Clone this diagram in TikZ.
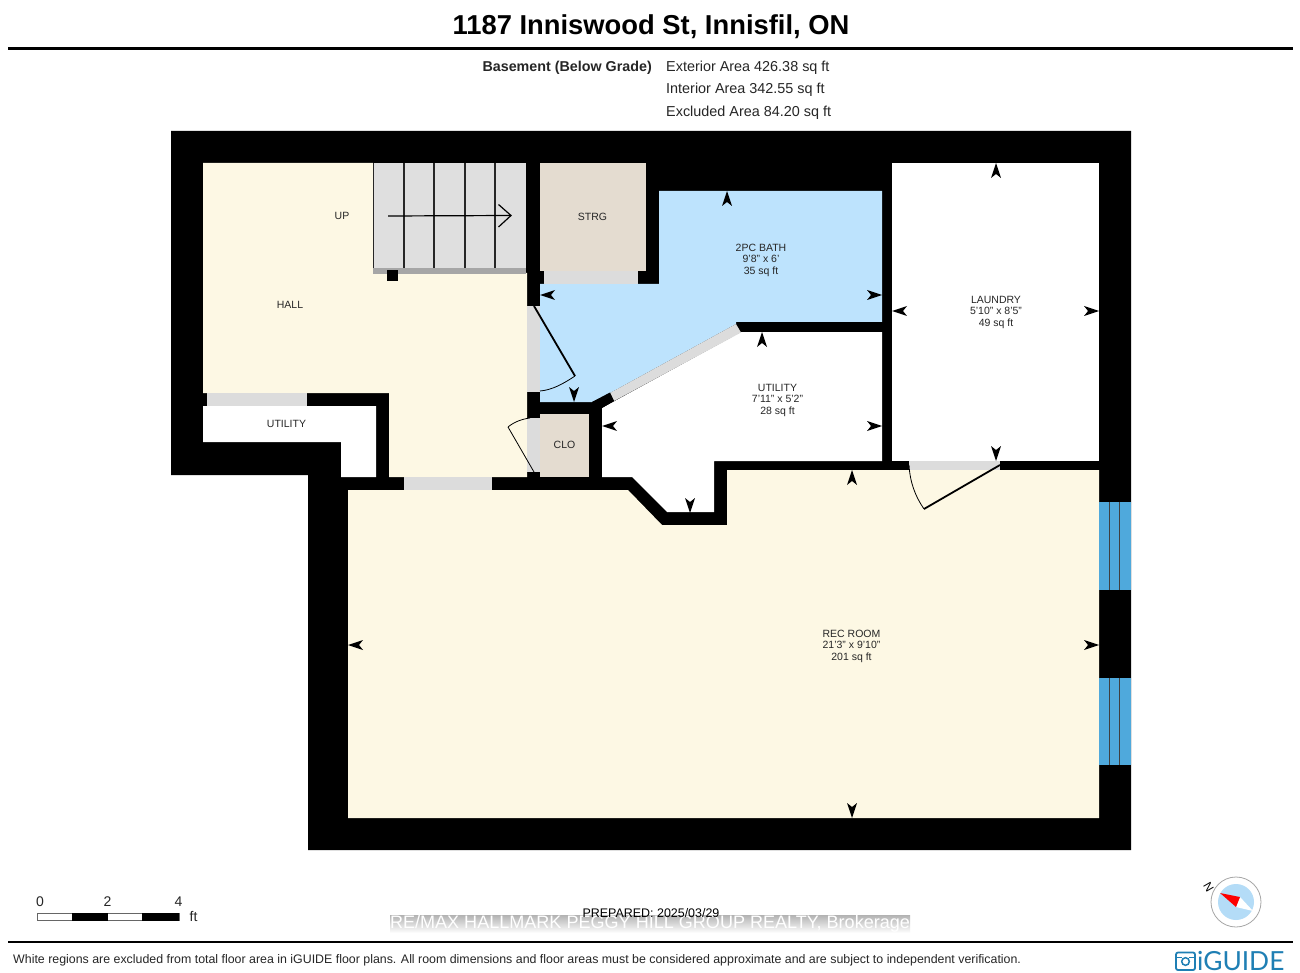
\documentclass[tikz,border=0pt]{standalone}
\usepackage{fontspec}
\setmainfont{Liberation Sans}
\newfontfamily\logofont{Lato}
\definecolor{cream}{HTML}{FDF8E4}
\definecolor{bath}{HTML}{BDE3FD}
\definecolor{tan}{HTML}{E4DCD0}
\definecolor{doorgray}{HTML}{DCDCDC}
\definecolor{stairgray}{HTML}{DFDFDF}
\definecolor{winblue}{HTML}{4FA9DC}
\definecolor{logoblue}{HTML}{1F7FB4}
\definecolor{compblue}{HTML}{B4DCF7}
\tikzset{
  x=1pt,y=-1pt,
  room/.style={font=\fontsize{10.5}{11.5}\selectfont,align=center,inner sep=0pt,text=black!85},
  head/.style={font=\fontsize{14.4}{16}\selectfont,anchor=west,inner sep=0pt,text=black!85},
  scalelab/.style={font=\fontsize{14}{16}\selectfont,inner sep=0pt,text=black!85},
  opening/.style={fill=doorgray},
  doorleaf/.style={line width=1.8pt,line join=round},
  doorarc/.style={line width=0.8pt},
  tread/.style={line width=1.3pt,draw=black!85},
}
\begin{document}
\begin{tikzpicture}
\useasboundingbox (0,0) rectangle (1300,973);
\fill[white] (0,0) rectangle (1300,973);

% header
\node[font=\bfseries\fontsize{27.35}{30}\selectfont,inner sep=0pt] (title) at (651,26.5) {1187 Inniswood St, Innisfil, ON};
\draw[line width=2.2pt] (8,48.5) -- (1293,48.5);
\node[head,font=\bfseries\fontsize{14.3}{16}\selectfont,anchor=east] (level) at (652,67.5) {Basement (Below Grade)};
\node[head] (ext) at (666,67.5) {Exterior Area 426.38 sq ft};
\node[head] (int) at (666,90) {Interior Area 342.55 sq ft};
\node[head] (exc) at (666,112.5) {Excluded Area 84.20 sq ft};

% walls
\fill[black] (171,131) -- (1131,131) -- (1131,850) -- (308,850) -- (308,475) -- (171,475) -- cycle;

% rooms
\fill[cream] (203,163) -- (373,163) -- (373,273) -- (527,273) -- (527,477) -- (389,477) -- (389,393) -- (203,393) -- cycle;
\fill[cream] (348,490) -- (628,490) -- (662,525) -- (727,525) -- (727,470) -- (1099,470) -- (1099,818) -- (348,818) -- cycle;
\fill[bath] (540,284) -- (659,284) -- (659,191) -- (882,191) -- (882,322) -- (736,322) -- (736,324) -- (610,393) -- (592,402) -- (540,402) -- cycle;
\fill[tan] (540,163) rectangle (646,271);
\fill[tan] (540,414) rectangle (589,477);
\fill[white] (602,408) -- (741,332) -- (882,332) -- (882,461) -- (714,461) -- (714,512) -- (667,512) -- (632,477) -- (602,477) -- cycle;
\fill[white] (892,163) rectangle (1099,461);
\fill[white] (203,406) -- (376,406) -- (376,477) -- (341,477) -- (341,442) -- (203,442) -- cycle;

% stairs
\fill[stairgray] (373,163) rectangle (525.5,268);
\fill[black!35] (373,268) rectangle (526,274);
\foreach \tx in {373.5,404,434,465,495}
  \draw[tread] (\tx,163) -- (\tx,268);
\fill[black] (387,270) rectangle (398,281);
\draw[line width=1.2pt] (388,216) -- (511,215.5);
\draw[line width=1.2pt] (498.5,204.5) -- (511,215.5) -- (498.5,227);

% openings
\fill[opening] (527,306) rectangle (540,392);
\fill[opening] (527,418) rectangle (540,472);
\fill[opening] (544,271) rectangle (638,284);
\fill[opening] (207,393) rectangle (307,406);
\fill[opening] (404,477) rectangle (492,490);
\fill[opening] (909,461) rectangle (1000,470);
\fill[opening] (736,324) -- (741,332.5) -- (614,401) -- (610,393) -- cycle;
% wall stub at the diagonal partition
\fill[black] (592,402) -- (610,392.5) -- (614,401) -- (602,408) -- (592,408) -- cycle;

% windows
\fill[winblue] (1099,502) rectangle (1131,590);
\fill[winblue] (1099,678) rectangle (1131,765);
\foreach \wy/\wz in {502/590,678/765}{
  \draw[line width=1pt,draw=black!75] (1109.5,\wy) -- (1109.5,\wz);
  \draw[line width=1pt,draw=black!75] (1119.5,\wy) -- (1119.5,\wz);
}

% doors
\draw[doorleaf] (534,306) -- (575,376);
\draw[doorarc] (575,376) .. controls (563,384) and (552,390) .. (540,391);
\draw[doorarc] (534,472) -- (508,427);
\draw[doorarc] (508,427) .. controls (514,422) and (522,419) .. (530,418);
\draw[doorleaf] (1000,465) -- (924,509);
\draw[doorarc] (924,509) .. controls (915,496) and (910,482) .. (909,465);

% dimension markers
\foreach \mx/\my in {727/191,762/332,852/470,996/163}
  \fill (\mx,\my) -- ++(5,15) -- ++(-5,-4) -- ++(-5,4) -- cycle;
\foreach \mx/\my in {852/818,996/461,574/402,690/513}
  \fill (\mx,\my) -- ++(5,-15) -- ++(-5,4) -- ++(-5,-4) -- cycle;
\foreach \mx/\my in {540/295,892/311,602/426,348/645}
  \fill (\mx,\my) -- ++(15,-5) -- ++(-4,5) -- ++(4,5) -- cycle;
\foreach \mx/\my in {882/295,1099/311,882/426,1099/645}
  \fill (\mx,\my) -- ++(-15,-5) -- ++(4,5) -- ++(-4,5) -- cycle;

% room labels
\node[room] (lup) at (342,215.5) {UP};
\node[room] (lhall) at (290,305) {HALL};
\node[room] (lstrg) at (592.5,216.5) {STRG};
\node[room] (lbath) at (761,260) {2PC BATH\\[0pt]9'8" x 6'\\[0pt]35 sq ft};
\node[room] (llaundry) at (996,312) {LAUNDRY\\[0pt]5'10" x 8'5"\\[0pt]49 sq ft};
\node[room] (lutil) at (777.5,400) {UTILITY\\[0pt]7'11" x 5'2"\\[0pt]28 sq ft};
\node[room] (lutil2) at (286.5,423.5) {UTILITY};
\node[room] (lclo) at (564.5,445) {CLO};
\node[room] (lrec) at (851.5,646) {REC ROOM\\[0pt]21'3" x 9'10"\\[0pt]201 sq ft};

% scale bar
\node[scalelab] (s0) at (40,901.5) {0};
\node[scalelab] (s2) at (107.5,901.5) {2};
\node[scalelab] (s4) at (178.5,901.5) {4};
\node[scalelab] (sft) at (193.5,916.5) {ft};
\draw[line width=0.8pt,draw=black!60,fill=white] (37,913.5) rectangle (179,920);
\fill (72,913) rectangle (108,920.5);
\fill (142,913) rectangle (179,920.5);

% watermark band and prepared line
\shade[top color=black!30,bottom color=white] (390,915) rectangle (910,933);
\node[font=\fontsize{18.05}{19}\selectfont,text=white,inner sep=0pt] (wm) at (650,924) {RE/MAX HALLMARK PEGGY HILL GROUP REALTY, Brokerage};
\node[font=\fontsize{12.45}{15}\selectfont,inner sep=0pt] (prep) at (651,913.5) {PREPARED: 2025/03/29};

% compass
\draw[line width=0.8pt,draw=black!35,fill=white] (1236,902) circle (25);
\fill[compblue] (1236,902) circle (18);
\fill[white] (1240,897) -- (1236,907) -- (1253,911) -- cycle;
\fill[red] (1220,893) -- (1240,897) -- (1236,907) -- cycle;
\node[font=\fontsize{12}{13}\selectfont,rotate=-60,inner sep=0pt] (north) at (1208.5,887) {N};

% footer
\draw[line width=2.2pt] (8,942) -- (1293,942);
\node[font=\fontsize{12.38}{15}\selectfont,anchor=west,inner sep=0pt,text=black!85] (note) at (13,960.5) {White regions are excluded from total floor area in iGUIDE floor plans. All room dimensions and floor areas must be considered approximate and are subject to independent verification.};

% logo
\draw[line width=1.8pt,draw=logoblue,rounded corners=2pt] (1176,952.5) rectangle (1195,970);
\draw[line width=1.5pt,draw=logoblue] (1176,957.5) -- (1182,957.5);
\draw[line width=1.5pt,draw=logoblue] (1189,957.5) -- (1195,957.5);
\draw[line width=1.5pt,draw=logoblue] (1185.5,961.5) circle (3.8);
\node[font=\logofont\fontsize{26.3}{28}\selectfont,text=logoblue,anchor=west,inner sep=0pt] (logo) at (1197,961.5) {iGUIDE};
\end{tikzpicture}
\end{document}
